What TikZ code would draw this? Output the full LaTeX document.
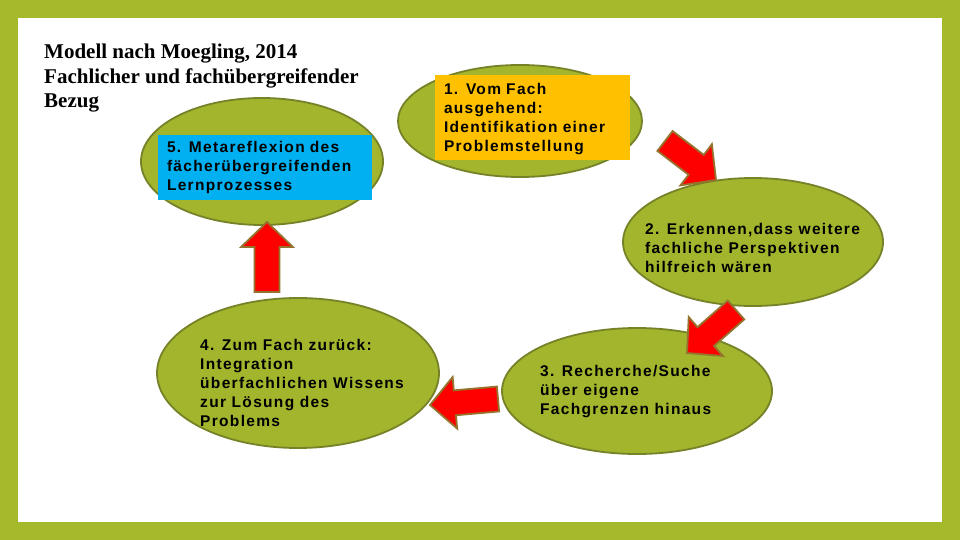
\documentclass[tikz,border=0pt]{standalone}
\usepackage{fontspec}
\setmainfont{Liberation Sans}[LetterSpace=8.5]
\newfontfamily\titlefont{Liberation Serif}
\usetikzlibrary{shapes.geometric,calc,positioning}
\definecolor{frameolive}{RGB}{166,185,42}
\definecolor{ellolive}{RGB}{163,180,45}
\definecolor{elledge}{RGB}{118,130,40}
\definecolor{boxblue}{RGB}{0,176,240}
\definecolor{boxorange}{RGB}{255,192,0}
\definecolor{arrowred}{RGB}{255,0,0}
\definecolor{arrowedge}{RGB}{150,115,45}
\newcommand{\stepfont}{\fontsize{15.5}{19}\selectfont\bfseries}
\newcommand{\fatarrow}[2]{%
  \draw[redarrow] ($(#1)!12.5pt!90:(#2)$) -- ($(#2)!27.9pt!-26.6:(#1)$)
    -- ($(#2)!36pt!-46:(#1)$) -- (#2)
    -- ($(#2)!36pt!46:(#1)$) -- ($(#2)!27.9pt!26.6:(#1)$)
    -- ($(#1)!12.5pt!-90:(#2)$) -- cycle;}

\begin{document}
\begin{tikzpicture}[x=1pt, y=-1pt,
    stage/.style={ellipse, draw=elledge, line width=1.8pt, fill=ellolive, inner sep=0pt},
    steptext/.style={anchor=west, align=left, inner sep=0pt, font=\stepfont},
    stepbox/.style={rectangle, inner ysep=0pt, inner xsep=9pt, align=left, font=\stepfont},
    redarrow/.style={fill=arrowred, draw=arrowedge, line width=1.8pt}
]
    % frame
    \useasboundingbox (0,0) rectangle (960,540);
    \fill[frameolive] (0,0) rectangle (960,540);
    \fill[white] (18,18) rectangle (942,522);

    % title
    \node[anchor=north west, inner sep=0pt, align=left,
          font=\titlefont\fontsize{21}{24.5}\selectfont\bfseries] (title) at (44,44)
        {Modell nach Moegling, 2014\\Fachlicher und fachübergreifender\\Bezug};

    % stages
    \node[stage, minimum width=242pt, minimum height=127pt] (s5) at (262,161.5) {};
    \node[stage, minimum width=244pt, minimum height=112pt] (s1) at (520,121) {};
    \node[stage, minimum width=260pt, minimum height=128pt] (s2) at (753,242) {};
    \node[stage, minimum width=282pt, minimum height=150pt] (s4) at (298,373) {};
    \node[stage, minimum width=270pt, minimum height=126pt] (s3) at (637,391) {};

    % labels
    \node[stepbox, fill=boxblue, text width=196pt, minimum height=65pt] (b5) at (265,167.5)
        {5. Metareflexion des\\fächerübergreifenden\\Lernprozesses};
    \node[stepbox, fill=boxorange, text width=177pt, minimum height=85pt, text height=15pt] (b1) at (532.5,117.5)
        {1. Vom Fach\\ausgehend:\\Identifikation einer\\Problemstellung};
    \node[steptext] (t2) at (645,248) {2. Erkennen,dass weitere\\fachliche Perspektiven\\hilfreich wären};
    \node[steptext] (t3) at (540,392) {3. Recherche/Suche\\über eigene\\Fachgrenzen hinaus};
    \node[steptext] (t4) at (200,382.5) {4. Zum Fach zurück:\\Integration\\überfachlichen Wissens\\zur Lösung des\\Problems};

    % arrows
    \coordinate (a12s) at (665,141);
    \coordinate (a12e) at (716,180);
    \coordinate (a23s) at (736,310);
    \coordinate (a23e) at (687,353);
    \coordinate (a34s) at (498,399);
    \coordinate (a34e) at (430,405);
    \coordinate (a45s) at (267,292);
    \coordinate (a45e) at (267,222);
    \fatarrow{a12s}{a12e}
    \fatarrow{a23s}{a23e}
    \fatarrow{a34s}{a34e}
    \fatarrow{a45s}{a45e}
\end{tikzpicture}
\end{document}
